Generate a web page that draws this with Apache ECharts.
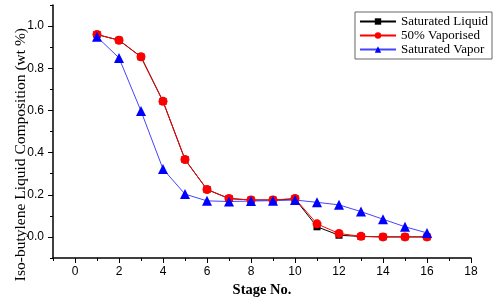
<!DOCTYPE html>
<html>
<head>
<meta charset="utf-8">
<script src="https://cdn.jsdelivr.net/npm/echarts@6/dist/echarts.min.js"></script>
<style>
 html, body { margin: 0; padding: 0; background: #fff; }
 #chart { width: 500px; height: 299px; }
</style>
</head>
<body>
<div id="chart"></div>
<script>
const stages = [1, 2, 3, 4, 5, 6, 7, 8, 9, 10, 11, 12, 13, 14, 15, 16]
const satLiquid = [0.96, 0.933, 0.854, 0.643, 0.367, 0.225, 0.182, 0.175, 0.175, 0.18, 0.048, 0.008, 0.002, 0.0, 0.0, 0.0]
const halfVapor = [0.96, 0.933, 0.854, 0.643, 0.367, 0.225, 0.182, 0.175, 0.175, 0.182, 0.062, 0.016, 0.003, 0.0, 0.0, 0.0]
const satVapor = [0.949, 0.849, 0.597, 0.322, 0.203, 0.171, 0.168, 0.17, 0.172, 0.175, 0.164, 0.152, 0.12, 0.084, 0.048, 0.019]
const xTicks = [0, 2, 4, 6, 8, 10, 12, 14, 16, 18]
const yTicks = [0.0, 0.2, 0.4, 0.6, 0.8, 1.0]

const pairs = (ys) => stages.map((x, i) => [x, ys[i]])

const axisText = { color: '#000', fontFamily: 'Liberation Sans', fontSize: 12 }
const titleText = { color: '#000', fontFamily: 'Liberation Serif', fontSize: 14.5, fontWeight: 'bold' }

const chart = echarts.init(document.getElementById('chart'))
chart.setOption({
 animation: false,
 grid: { left: 53, right: 29, top: 5, bottom: 41, outerBoundsMode: 'none' },
 // y title sits lower than the plot centre in the original
 graphic: [{
  type: 'text', left: 13, top: 28,
  rotation: Math.PI / 2,
  style: {
   text: 'Iso-butylene Liquid Composition (wt %)',
   fill: '#000', font: '15.5px "Liberation Serif"'
  }
 }],
 legend: {
  right: 8, top: 12,
  orient: 'vertical',
  itemWidth: 36, itemHeight: 8, itemGap: 1,
  padding: [3, 4, 3, 4],
  borderColor: '#666', borderWidth: 1,
  textStyle: { color: '#000', fontFamily: 'Liberation Serif', fontSize: 13 },
  data: ['Saturated Liquid', '50% Vaporised', 'Saturated Vapor']
 },
 xAxis: [
  {
   type: 'value', min: -1, max: 18,
   name: 'Stage No.', nameLocation: 'middle', nameGap: 24, nameTextStyle: titleText,
   axisLine: { onZero: false, lineStyle: { color: '#000', width: 1.5 } },
   axisTick: { customValues: xTicks, length: 5, lineStyle: { color: '#000' } },
   axisLabel: Object.assign({ customValues: xTicks, margin: 8 }, axisText),
   splitLine: { show: false }
  },
  {
   type: 'value', min: -1, max: 18, interval: 1, position: 'bottom',
   axisLine: { show: false, onZero: false },
   axisTick: { length: 3, lineStyle: { color: '#000' } },
   axisLabel: { show: false },
   splitLine: { show: false }
  }
 ],
 yAxis: [
  {
   type: 'value', min: -0.1, max: 1.1,
   axisLine: { onZero: false, lineStyle: { color: '#000', width: 1.5 } },
   axisTick: { customValues: yTicks, length: 5, lineStyle: { color: '#000' } },
   axisLabel: Object.assign({ customValues: yTicks, margin: 9, formatter: (v) => v.toFixed(1) }, axisText),
   splitLine: { show: false }
  },
  {
   type: 'value', min: -0.1, max: 1.1, interval: 0.1, position: 'left',
   axisLine: { show: false, onZero: false },
   axisTick: { length: 3, lineStyle: { color: '#000' } },
   axisLabel: { show: false },
   splitLine: { show: false }
  }
 ],
 series: [
  {
   name: 'Saturated Liquid', type: 'line', data: pairs(satLiquid),
   symbol: 'rect', symbolSize: 7,
   itemStyle: { color: '#000' }, lineStyle: { color: '#000', width: 1 }
  },
  {
   name: '50% Vaporised', type: 'line', data: pairs(halfVapor),
   symbol: 'circle', symbolSize: 9,
   itemStyle: { color: '#ff0000' }, lineStyle: { color: '#ff0000', width: 1 }
  },
  {
   name: 'Saturated Vapor', type: 'line', data: pairs(satVapor),
   symbol: 'triangle', symbolSize: 10,
   itemStyle: { color: '#0000ff' }, lineStyle: { color: '#4444ff', width: 1 }
  }
 ]
})
</script>
</body>
</html>
